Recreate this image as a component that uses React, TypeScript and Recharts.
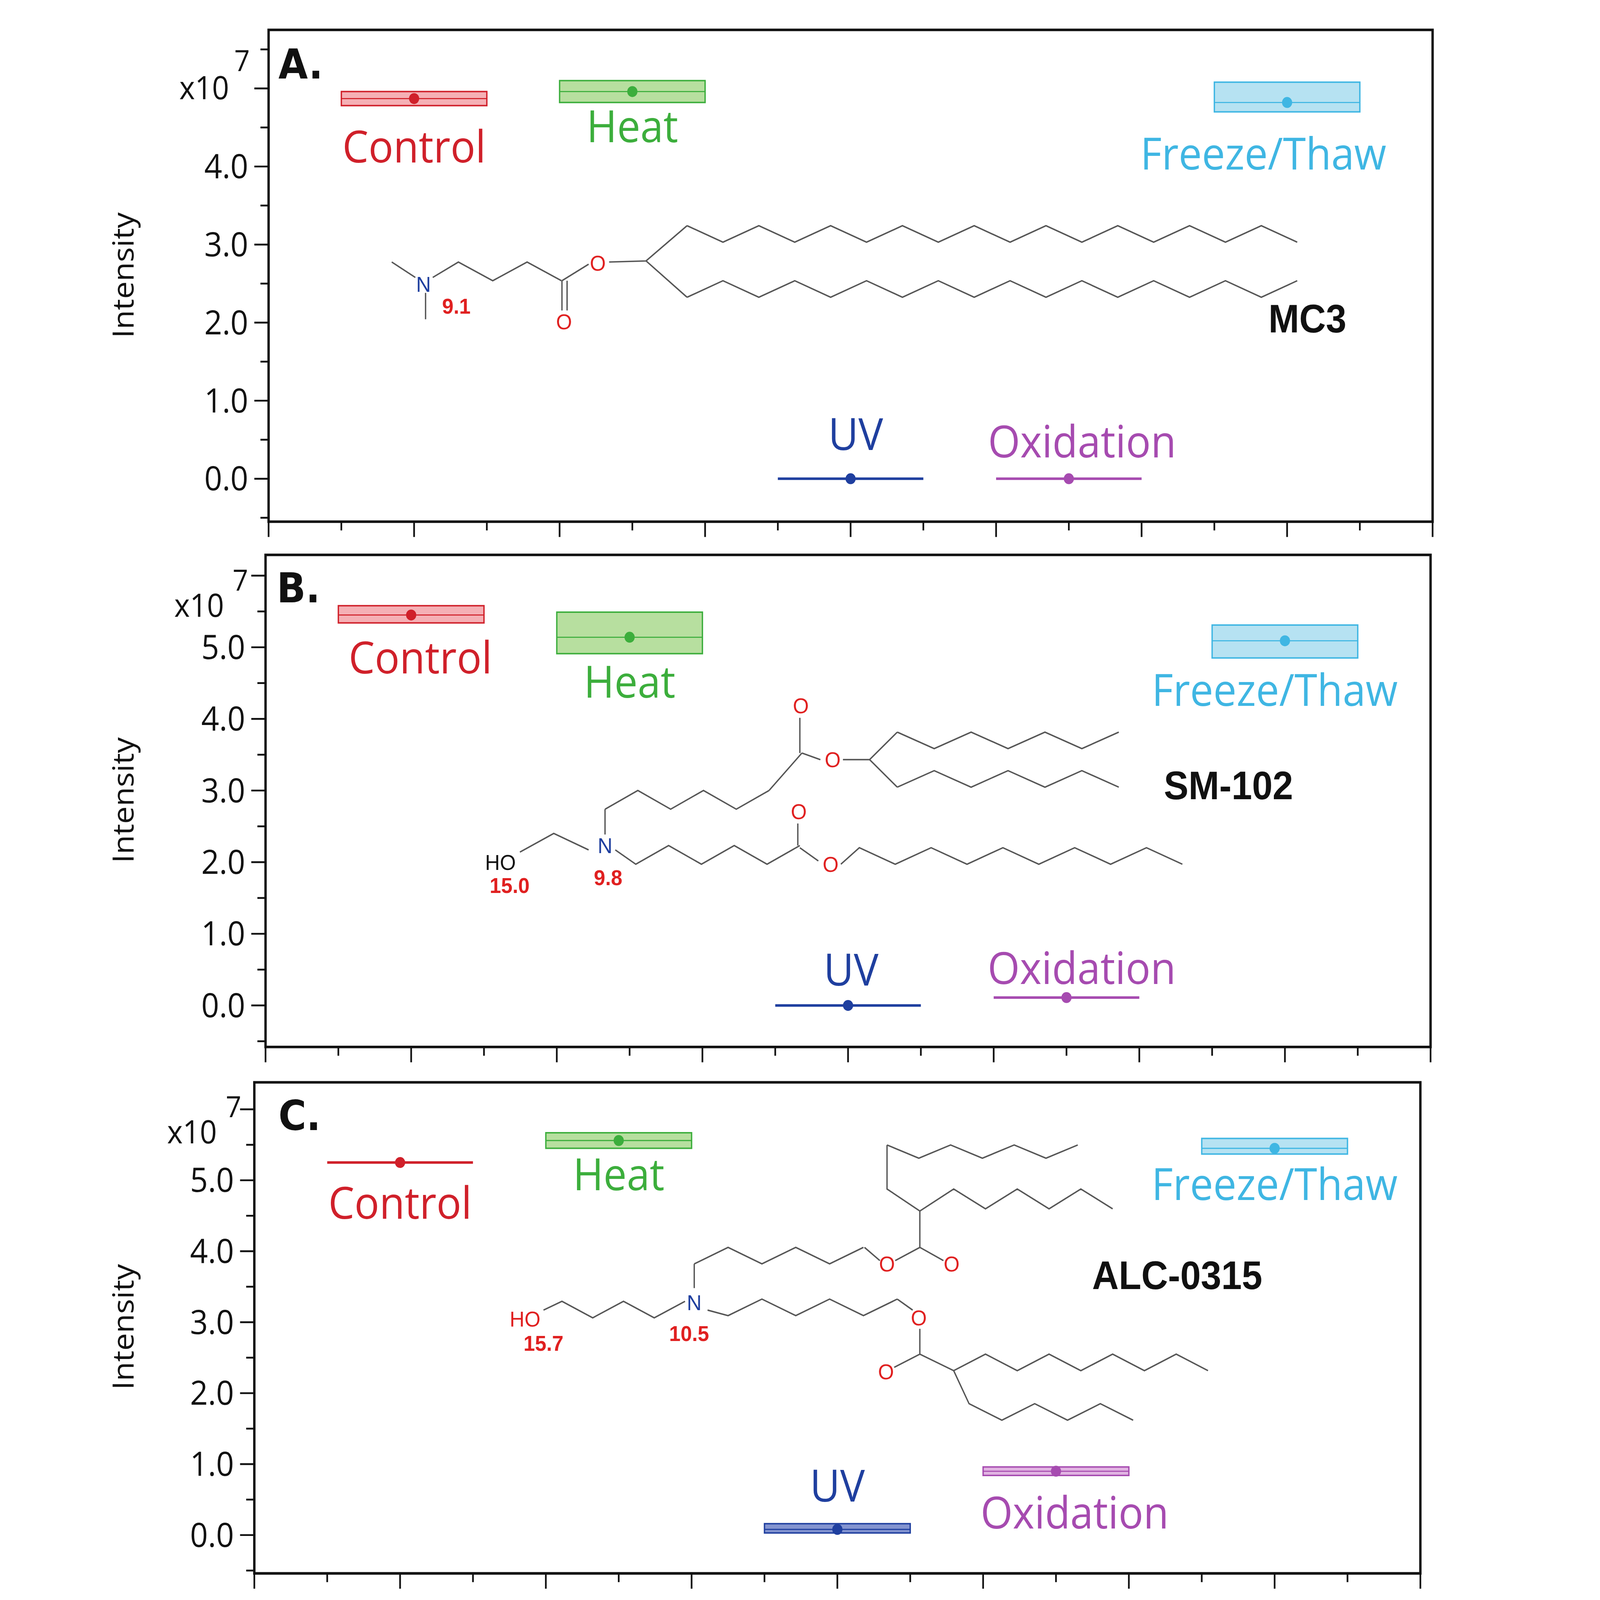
import React from 'react';
import { ComposedChart, XAxis, YAxis, Scatter, ReferenceArea, ReferenceLine } from 'recharts';

const W = 4712, H = 4389, S = 3.02;
const FITX = 4096 / 4712, FITY = 4096 / 4389;
const conditions = ['Control', 'Heat', 'UV', 'Oxidation', 'Freeze/Thaw'];
const xPos = [1, 2.5, 4, 5.5, 7];
const colors = ['#d0202a', '#3cae3c', '#1f3f9f', '#a64bb0', '#3fb6e3'];
const fills = ['#f2959c', '#9fd47f', '#5a70c0', '#d79ad8', '#9ed8ee'];
const meanA = [4.87, 4.96, 0.0, 0.0, 4.82];
const loA = [4.78, 4.82, 0.0, 0.0, 4.70];
const hiA = [4.96, 5.10, 0.0, 0.0, 5.08];
const meanB = [5.45, 5.14, 0.0, 0.11, 5.09];
const loB = [5.34, 4.91, 0.0, 0.11, 4.85];
const hiB = [5.58, 5.49, 0.0, 0.11, 5.31];
const meanC = [5.25, 5.56, 0.08, 0.90, 5.45];
const loC = [5.25, 5.45, 0.03, 0.84, 5.37];
const hiC = [5.25, 5.67, 0.16, 0.96, 5.59];
const yTickLabels = ['0.0', '1.0', '2.0', '3.0', '4.0', '5.0'];

const panels = [
  { letter: 'A.', mean: meanA, lo: loA, hi: hiA, top: 82, bottom: 1431, left: 791, right: 4219, dom: [-0.55, 5.75], maxLab: 4,
    lab: [[0, 133], [0, 97], [15, -121], [39, -100], [-70, 142]] },
  { letter: 'B.', mean: meanB, lo: loB, hi: hiB, top: 1522, bottom: 2872, left: 782, right: 4213, dom: [-0.58, 6.29], maxLab: 5,
    lab: [[27, 118], [0, 124], [9, -97], [45, -79], [-30, 136]] },
  { letter: 'C.', mean: meanC, lo: loC, hi: hiC, top: 2969, bottom: 4316, left: 749, right: 4183, dom: [-0.54, 6.38], maxLab: 5,
    lab: [[0, 112], [0, 94], [0, -118], [55, 115], [0, 100]] },
];

const font = 'Open Sans, DejaVu Sans, sans-serif';
const AXW = 300, AXH = 120;

function Panel({ p }: any) {
  const data = conditions.map((c, i) => ({ name: c, x: xPos[i], y: p.mean[i], i }));
  const xt: number[] = []; for (let v = 0; v <= 8; v += 0.5) xt.push(v);
  const yt: number[] = []; for (let v = -0.5; v <= p.dom[1]; v += 0.5) yt.push(Math.round(v * 10) / 10);
  const xTick = (props: any) => {
    const { x, payload } = props;
    const major = Number.isInteger(payload.value);
    return <line x1={x} x2={x} y1={p.bottom} y2={p.bottom + (major ? 42 : 24)} stroke="#111" strokeWidth={5} />;
  };
  const yTick = (props: any) => {
    const { y, payload } = props;
    const v = payload.value; const major = Number.isInteger(v);
    return <g>
      <line x1={p.left} x2={p.left - (major ? 42 : 24)} y1={y} y2={y} stroke="#111" strokeWidth={5} />
      {major && v >= 0 && v <= p.maxLab && <text x={p.left - 60} y={y} dy={32} textAnchor="end" fontSize={92} fontFamily={font} fill="#111">{yTickLabels[v]}</text>}
    </g>;
  };
  const dot = (props: any) => {
    const { cx, cy, payload } = props;
    const i = payload.i; const [dx, dy] = p.lab[i];
    return <g>
      <circle cx={cx} cy={cy} r={15} fill={colors[i]} />
      <text x={cx + dx} y={cy + dy} dy={42} textAnchor="middle" fontSize={122} fontFamily={font} fill={colors[i]}>{conditions[i]}</text>
    </g>;
  };
  return (
    <div style={{ position: 'absolute', left: 0, top: 0 }}>
      <ComposedChart width={W} height={H} data={data}
        margin={{ top: p.top, bottom: H - p.bottom - AXH, left: p.left - AXW, right: W - p.right }}>
        <XAxis type="number" dataKey="x" domain={[0, 8]} ticks={xt} height={AXH} axisLine={false} tickLine={false} tick={xTick} allowDataOverflow interval={0} />
        <YAxis type="number" dataKey="y" domain={p.dom} ticks={yt} width={AXW} axisLine={false} tickLine={false} tick={yTick} allowDataOverflow interval={0} />
        <ReferenceArea x1={0} x2={8} y1={p.dom[0]} y2={p.dom[1]} fill="none" stroke="#111" strokeWidth={7} ifOverflow="visible" />
        {conditions.map((c, i) => p.hi[i] > p.lo[i] ? (
          <ReferenceArea key={c} x1={xPos[i] - 0.5} x2={xPos[i] + 0.5} y1={p.lo[i]} y2={p.hi[i]}
            fill={fills[i]} fillOpacity={0.75} stroke={colors[i]} strokeWidth={4} ifOverflow="visible" />
        ) : null)}
        {conditions.map((c, i) => (
          <ReferenceLine key={'m' + c} segment={[{ x: xPos[i] - 0.5, y: p.mean[i] }, { x: xPos[i] + 0.5, y: p.mean[i] }]}
            stroke={colors[i]} strokeWidth={p.hi[i] > p.lo[i] ? 3 : 7} ifOverflow="visible" />
        ))}
        <Scatter dataKey="y" isAnimationActive={false} shape={dot} />
      </ComposedChart>
    </div>
  );
}

const zig = (x0: number, y0: number, n: number, dx: number, dy: number) => {
  const pts: string[] = [];
  for (let k = 0; k <= n; k++) pts.push(`${x0 + k * dx},${y0 + (k % 2) * dy}`);
  return pts.join(' ');
};

function Structures() {
  const L = { fill: 'none', stroke: '#555', strokeWidth: 1.3 } as any;
  const T = (x: number, y: number, s: string, c: string, fs = 20, b = false) =>
    <text x={x} y={y} fontSize={fs} fill={c} textAnchor="middle" fontFamily="Arial, Liberation Sans, sans-serif" fontWeight={b ? 'bold' : 'normal'}>{s}</text>;
  return (
    <svg width={W} height={H} style={{ position: 'absolute', left: 0, top: 0 }}>
      <g transform={`scale(${S})`}>
        <polyline {...L} points="382,238 405,252" />
        <polyline {...L} points="415,266 415,290" />
        <polyline {...L} points={'422,252 ' + zig(447, 238, 3, 33.5, 17)} />
        <polyline {...L} points="548,255 548,282" />
        <polyline {...L} points="553,255 553,282" />
        <polyline {...L} points="548,255 574,240" />
        <polyline {...L} points="594,238 630,237 670,205" />
        <polyline {...L} points="630,237 670,270" />
        <polyline {...L} points={zig(670, 205, 17, 35, 15)} />
        <polyline {...L} points={zig(670, 270, 17, 35, -15)} />
        {T(413, 265, 'N', '#1f3f9f')}{T(445, 285, '9.1', '#e02020', 20, true)}
        {T(583, 246, 'O', '#e02020')}{T(550, 299, 'O', '#e02020')}
        {T(1275, 302, 'MC3', '#111', 36, true)}
        <polyline {...L} points="507,774 540,757 574,772" />
        <polyline {...L} points={'600,772 ' + zig(620, 785, 5, 32, -17)} />
        <polyline {...L} points="780,770 798,782" />
        <polyline {...L} points={'820,785 ' + zig(838, 770, 9, 35, 15)} />
        <polyline {...L} points="778,768 778,748" />
        <polyline {...L} points="590,758 590,735" />
        <polyline {...L} points={zig(590, 735, 5, 32, -17)} />
        <polyline {...L} points="750,718 782,684" />
        <polyline {...L} points="780,684 780,652" />
        <polyline {...L} points="782,684 800,690" />
        <polyline {...L} points="822,690 848,690 875,665" />
        <polyline {...L} points="848,690 875,715" />
        <polyline {...L} points={zig(875, 665, 6, 36, 15)} />
        <polyline {...L} points={zig(875, 715, 6, 36, -15)} />
        {T(488, 790, 'HO', '#111')}{T(497, 811, '15.0', '#e02020', 20, true)}
        {T(590, 775, 'N', '#1f3f9f')}{T(593, 804, '9.8', '#e02020', 20, true)}
        {T(779, 744, 'O', '#e02020')}{T(810, 792, 'O', '#e02020')}{T(781, 648, 'O', '#e02020')}{T(812, 697, 'O', '#e02020')}
        {T(1198, 726, 'SM-102', '#111', 36, true)}
        <polyline {...L} points={'530,1190 ' + zig(548, 1182, 4, 30, 15)} />
        <polyline {...L} points="677,1170 677,1148" />
        <polyline {...L} points={zig(677, 1148, 5, 33, -15)} />
        <polyline {...L} points="843,1133 858,1145" />
        <polyline {...L} points="873,1145 897,1133 920,1145" />
        <polyline {...L} points="897,1133 897,1100 865,1080 865,1040" />
        <polyline {...L} points={zig(865, 1040, 6, 31, 12)} />
        <polyline {...L} points={'897,1100 ' + zig(930, 1080, 5, 31, 18)} />
        <polyline {...L} points={'690,1190 ' + zig(710, 1195, 5, 33, -15)} />
        <polyline {...L} points="875,1180 890,1190" />
        <polyline {...L} points="897,1207 897,1230 872,1242" />
        <polyline {...L} points="897,1230 930,1245" />
        <polyline {...L} points={zig(930, 1245, 8, 31, -15)} />
        <polyline {...L} points={'930,1245 ' + zig(945, 1275, 5, 32, 15)} />
        {T(512, 1205, 'HO', '#e02020')}{T(530, 1227, '15.7', '#e02020', 20, true)}
        {T(677, 1190, 'N', '#1f3f9f')}{T(672, 1218, '10.5', '#e02020', 20, true)}
        {T(865, 1155, 'O', '#e02020')}{T(928, 1155, 'O', '#e02020')}{T(896, 1204, 'O', '#e02020')}{T(864, 1253, 'O', '#e02020')}
        {T(1148, 1171, 'ALC-0315', '#111', 36, true)}
      </g>
    </svg>
  );
}

const axisDeco = [
  { x10: [528, 272], sev: [690, 195], intY: 755, letter: [820, 215] },
  { x10: [513, 1692], sev: [685, 1620], intY: 2195, letter: [815, 1652] },
  { x10: [492, 3136], sev: [665, 3065], intY: 3640, letter: [820, 3100] },
];

export default function App() {
  return (
    <div style={{ position: 'absolute', left: 0, top: 0, width: W * FITX, height: H * FITY, overflow: 'hidden', background: '#fff' }}>
      <div style={{ position: 'absolute', left: 0, top: 0, width: W, height: H, transform: `scale(${FITX}, ${FITY})`, transformOrigin: '0 0' }}>
        {panels.map((p, k) => <Panel key={k} p={p} />)}
        <Structures />
        <svg width={W} height={H} style={{ position: 'absolute', left: 0, top: 0 }}>
          {axisDeco.map((d, k) => (
            <g key={k} fontFamily={font} fill="#111">
              <text x={d.x10[0]} y={d.x10[1]} fontSize={88}>x10</text>
              <text x={d.sev[0]} y={d.sev[1]} fontSize={80}>7</text>
              <text x={363} y={d.intY} fontSize={86} textAnchor="middle" transform={`rotate(-90 363 ${d.intY})`} dy={30}>Intensity</text>
              <text x={d.letter[0]} y={d.letter[1]} fontSize={112} fontWeight="bold" fontFamily="DejaVu Sans, sans-serif">{panels[k].letter}</text>
            </g>
          ))}
        </svg>
      </div>
    </div>
  );
}
